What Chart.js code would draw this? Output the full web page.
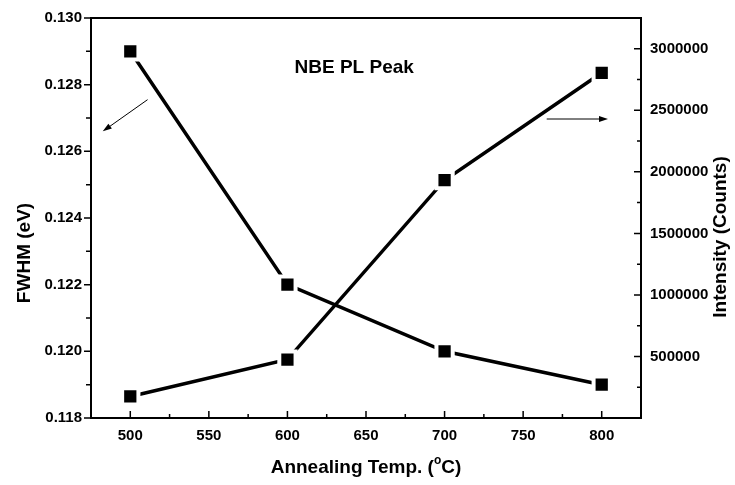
<!DOCTYPE html>
<html>
<head>
<meta charset="utf-8">
<script src="https://cdn.jsdelivr.net/npm/chart.js@4.4.0/dist/chart.umd.min.js"></script>
<style>
  body { margin: 0; background: #fff; }
  #wrap { width: 735px; height: 485px; }
</style>
</head>
<body>
<div id="wrap"><canvas id="chart"></canvas></div>
<script>
// annealing temperature, degC
const temps = [500, 600, 700, 800];
// FWHM of the NBE PL peak, eV (left axis)
const fwhm = [0.129, 0.122, 0.120, 0.119];
// PL intensity, counts (right axis)
const intensity = [175000, 475000, 1932000, 2805000];

// tick values
const tempTicks = [500, 550, 600, 650, 700, 750, 800];
const tempMinor = [525, 575, 625, 675, 725, 775];
const fwhmTicks = [0.118, 0.120, 0.122, 0.124, 0.126, 0.128, 0.130];
const fwhmMinor = [0.119, 0.121, 0.123, 0.125, 0.127, 0.129];
const intTicks = [500000, 1000000, 1500000, 2000000, 2500000, 3000000];
const intMinor = [250000, 750000, 1250000, 1750000, 2250000, 2750000];

// text
const titleFwhm = "FWHM (eV)";
const titleInt = "Intensity (Counts)";
const titleTemp = ["Annealing Temp. (", "o", "C)"];
const noteText = "NBE PL Peak";
const notePos = [642.5, 0.1285];
// arrows pointing at the axes, [temp, fwhm]
const arrowLeft = [[511, 0.12755], [482.5, 0.1266]];
const arrowRight = [[765, 0.12697], [804, 0.12697]];

const FONT = '"Liberation Sans", Arial, sans-serif';

function drawArrow(ctx, x1, y1, x2, y2) {
  const ang = Math.atan2(y2 - y1, x2 - x1);
  const hl = 9, hw = 3;
  ctx.beginPath();
  ctx.lineWidth = 1;
  ctx.moveTo(x1, y1);
  ctx.lineTo(x2 - Math.cos(ang) * hl * 0.8, y2 - Math.sin(ang) * hl * 0.8);
  ctx.stroke();
  ctx.beginPath();
  ctx.moveTo(x2, y2);
  ctx.lineTo(x2 - Math.cos(ang) * hl + Math.sin(ang) * hw, y2 - Math.sin(ang) * hl - Math.cos(ang) * hw);
  ctx.lineTo(x2 - Math.cos(ang) * hl - Math.sin(ang) * hw, y2 - Math.sin(ang) * hl + Math.cos(ang) * hw);
  ctx.closePath();
  ctx.fill();
}

const framePlugin = {
  id: 'frame',
  afterDraw(chart) {
    const ctx = chart.ctx;
    const a = chart.chartArea;
    const x = chart.scales.x, y = chart.scales.y, y1 = chart.scales.y1;
    ctx.save();
    ctx.strokeStyle = '#000';
    ctx.fillStyle = '#000';

    // box
    ctx.lineWidth = 2;
    ctx.strokeRect(a.left, a.top, a.right - a.left, a.bottom - a.top);

    // ticks
    ctx.lineWidth = 1.5;
    ctx.beginPath();
    fwhmTicks.forEach(v => { const p = y.getPixelForValue(v); ctx.moveTo(a.left - 7, p); ctx.lineTo(a.left, p); });
    fwhmMinor.forEach(v => { const p = y.getPixelForValue(v); ctx.moveTo(a.left - 5, p); ctx.lineTo(a.left, p); });
    tempTicks.forEach(v => { const p = x.getPixelForValue(v); ctx.moveTo(p, a.bottom); ctx.lineTo(p, a.bottom - 7); });
    tempMinor.forEach(v => { const p = x.getPixelForValue(v); ctx.moveTo(p, a.bottom); ctx.lineTo(p, a.bottom - 4); });
    intTicks.forEach(v => { const p = y1.getPixelForValue(v); ctx.moveTo(a.right, p); ctx.lineTo(a.right - 7, p); });
    intMinor.forEach(v => { const p = y1.getPixelForValue(v); ctx.moveTo(a.right, p); ctx.lineTo(a.right - 4, p); });
    ctx.stroke();

    // arrows
    [arrowLeft, arrowRight].forEach(ar => {
      drawArrow(ctx,
        x.getPixelForValue(ar[0][0]), y.getPixelForValue(ar[0][1]),
        x.getPixelForValue(ar[1][0]), y.getPixelForValue(ar[1][1]));
    });

    // note
    ctx.font = 'bold 19px ' + FONT;
    ctx.textAlign = 'center';
    ctx.textBaseline = 'middle';
    ctx.fillText(noteText, x.getPixelForValue(notePos[0]), y.getPixelForValue(notePos[1]));

    // axis titles
    ctx.save();
    ctx.translate(25, 253);
    ctx.rotate(-Math.PI / 2);
    ctx.fillText(titleFwhm, 0, 0);
    ctx.restore();

    ctx.save();
    ctx.translate(721, 237);
    ctx.rotate(-Math.PI / 2);
    ctx.fillText(titleInt, 0, 0);
    ctx.restore();

    const cx = (a.left + a.right) / 2, cy = 468;
    ctx.font = 'bold 19px ' + FONT;
    const w1 = ctx.measureText(titleTemp[0]).width;
    const w3 = ctx.measureText(titleTemp[2]).width;
    ctx.font = 'bold 12px ' + FONT;
    const w2 = ctx.measureText(titleTemp[1]).width;
    let sx = cx - (w1 + w2 + w3) / 2;
    ctx.textAlign = 'left';
    ctx.font = 'bold 19px ' + FONT;
    ctx.fillText(titleTemp[0], sx, cy);
    ctx.font = 'bold 12px ' + FONT;
    ctx.fillText(titleTemp[1], sx + w1, cy - 7);
    ctx.font = 'bold 19px ' + FONT;
    ctx.fillText(titleTemp[2], sx + w1 + w2, cy);

    ctx.restore();
  }
};

const tickFont = { family: FONT, size: 15, weight: 'bold' };

new Chart(document.getElementById('chart'), {
  type: 'line',
  data: {
    datasets: [
      {
        label: 'FWHM',
        data: temps.map((t, i) => ({ x: t, y: fwhm[i] })),
        yAxisID: 'y'
      },
      {
        label: 'Intensity',
        data: temps.map((t, i) => ({ x: t, y: intensity[i] })),
        yAxisID: 'y1'
      }
    ]
  },
  options: {
    responsive: true,
    maintainAspectRatio: false,
    animation: false,
    layout: { padding: { top: 16, left: 0, right: 0, bottom: 0 } },
    elements: {
      line: { borderColor: '#000', borderWidth: 3.5, tension: 0, fill: false },
      point: {
        pointStyle: 'rect', radius: 11.5, borderWidth: 4,
        borderColor: '#fff', backgroundColor: '#000'
      }
    },
    plugins: {
      legend: { display: false },
      tooltip: { enabled: false }
    },
    scales: {
      x: {
        type: 'linear', position: 'bottom', min: 475, max: 825,
        afterBuildTicks: s => { s.ticks = tempTicks.map(v => ({ value: v })); },
        afterFit: s => { s.height = 67; },
        grid: { display: false, drawTicks: false },
        border: { display: false },
        ticks: { font: tickFont, color: '#000', padding: 9, callback: v => String(v) }
      },
      y: {
        type: 'linear', position: 'left', min: 0.118, max: 0.130,
        afterBuildTicks: s => { s.ticks = fwhmTicks.map(v => ({ value: v })); },
        afterFit: s => { s.width = 91; },
        grid: { display: false, drawTicks: false },
        border: { display: false },
        ticks: { font: tickFont, color: '#000', padding: 9, callback: v => v.toFixed(3) }
      },
      y1: {
        type: 'linear', position: 'right', min: 0, max: 3250000,
        afterBuildTicks: s => { s.ticks = intTicks.map(v => ({ value: v })); },
        afterFit: s => { s.width = 94; },
        grid: { display: false, drawTicks: false },
        border: { display: false },
        ticks: { font: tickFont, color: '#000', padding: 9, callback: v => String(v) }
      }
    }
  },
  plugins: [framePlugin]
});
</script>
</body>
</html>
